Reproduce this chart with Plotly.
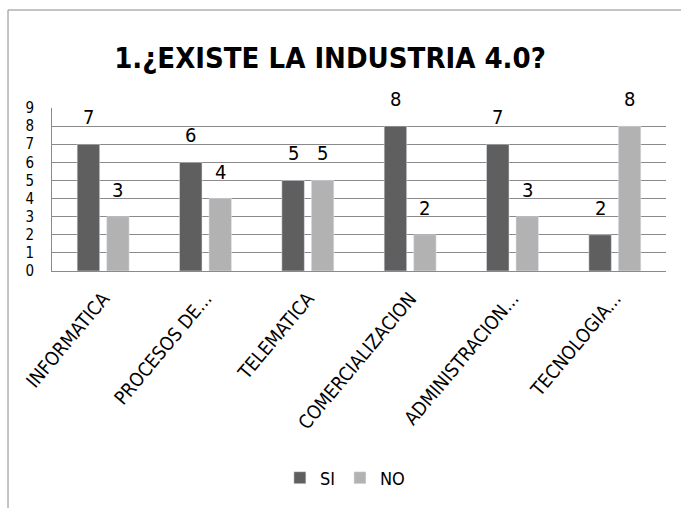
import plotly.graph_objects as go

categories = ["INFORMATICA", "PROCESOS DE...", "TELEMATICA", "COMERCIALIZACION",
              "ADMINISTRACION...", "TECNOLOGIA..."]
si_values = [7, 6, 5, 8, 7, 2]
no_values = [3, 4, 5, 2, 3, 8]
y_ticks = list(range(0, 10))
title_text = "1.¿EXISTE LA INDUSTRIA 4.0?"

FONT = "DejaVu Sans Condensed, Liberation Sans Narrow, Arial Narrow, Liberation Sans, sans-serif"
DARK = "#5f5f5f"
LIGHT = "#b2b2b2"

fig = go.Figure()
fig.add_trace(go.Bar(name="SI", x=categories, y=si_values, marker_color=DARK,
                     width=0.22, offset=-0.254))
fig.add_trace(go.Bar(name="NO", x=categories, y=no_values, marker_color=LIGHT,
                     width=0.22, offset=0.034))

# value labels above bars
for i, (c, s, n) in enumerate(zip(categories, si_values, no_values)):
    fig.add_annotation(x=i - 0.144, y=s, xref="x", yref="y", text=str(s),
                       showarrow=False, yanchor="bottom", yshift=13,
                       font=dict(family=FONT, size=20, color="#000000"))
    fig.add_annotation(x=i + 0.144, y=n, xref="x", yref="y", text=str(n),
                       showarrow=False, yanchor="bottom", yshift=13,
                       font=dict(family=FONT, size=20, color="#000000"))

# outer chart border
fig.add_shape(type="rect", xref="paper", yref="paper",
              x0=(8 - 52) / 614, x1=1.2, y0=-2.0, y1=(271 - 10) / 163,
              line=dict(color="#8a8a8a", width=1), fillcolor="rgba(0,0,0,0)", layer="below")

fig.update_layout(
    width=681, height=508,
    margin=dict(l=52, r=15, t=108, b=237, autoexpand=False),
    paper_bgcolor="white", plot_bgcolor="white",
    title=dict(text="<b>" + title_text + "</b>", x=330 / 681, xanchor="center",
               y=1 - 58 / 508, yanchor="middle",
               font=dict(family=FONT, size=29, color="#000000")),
    barmode="overlay",
    showlegend=True,
    legend=dict(orientation="h", x=0.477, xanchor="center", y=(271 - 478) / 163,
                yanchor="middle", font=dict(family=FONT, size=18, color="#000000"),
                itemwidth=30, entrywidth=0, bgcolor="rgba(0,0,0,0)"),
    font=dict(family=FONT, color="#000000"),
)
fig.update_xaxes(type="category", tickangle=-50, tickfont=dict(family=FONT, size=19, color="#000000"),
                 showline=True, linecolor="#8a8a8a", linewidth=1, ticks="", showgrid=False,
                 ticklabelstandoff=8, range=[-0.5, 5.5])
fig.update_yaxes(range=[0, 9], tickvals=y_ticks, ticktext=[str(t) for t in y_ticks],
                 tickfont=dict(family=FONT, size=15, color="#000000"),
                 showgrid=True, gridcolor="#8a8a8a", gridwidth=1, ticklabelstandoff=14,
                 showline=True, linecolor="#8a8a8a", linewidth=1, ticks="", zeroline=False)

fig.write_html("out.html", config={"displayModeBar": False},
               post_script="document.body.style.margin='0';")
